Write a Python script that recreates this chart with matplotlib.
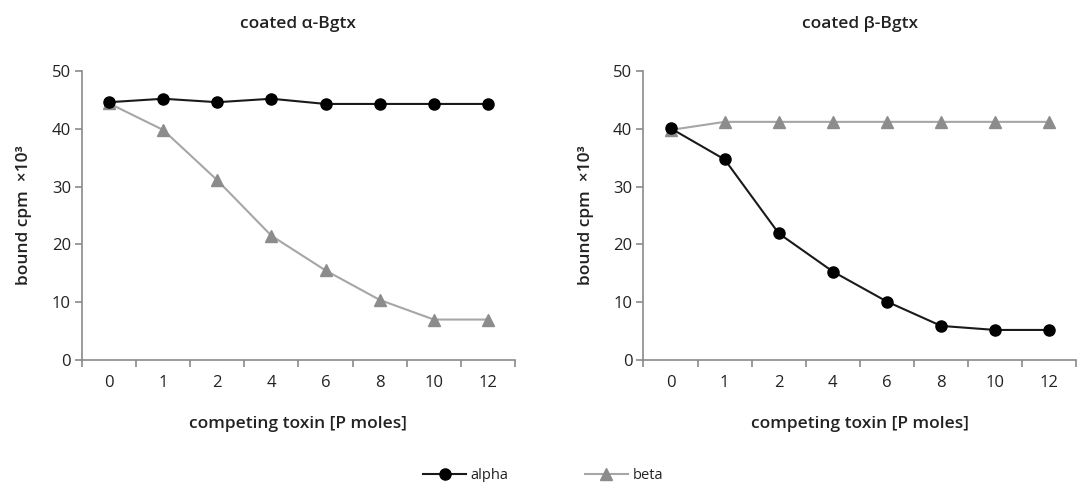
import matplotlib
matplotlib.use("Agg")
import matplotlib.pyplot as plt
import numpy as np

plt.rcParams['font.family'] = ['Open Sans', 'DejaVu Sans']

toxin = ['0', '1', '2', '4', '6', '8', '10', '12']

# coated alpha-Bgtx panel
alpha_a = [44.6, 45.2, 44.6, 45.2, 44.3, 44.3, 44.3, 44.3]
beta_a = [44.4, 39.8, 31.1, 21.5, 15.5, 10.4, 7.0, 7.0]

# coated beta-Bgtx panel
alpha_b = [40.1, 34.7, 21.9, 15.3, 10.1, 5.9, 5.2, 5.2]
beta_b = [39.8, 41.2, 41.2, 41.2, 41.2, 41.2, 41.2, 41.2]

titles = ['coated \u03b1-Bgtx', 'coated \u03b2-Bgtx']

axis_grey = '#8a8a8a'
text_col = '#222222'

fig = plt.figure(figsize=(10.86, 4.82), dpi=100)
ax1 = fig.add_axes([0.0755, 0.2531, 0.3987, 0.5996])
ax2 = fig.add_axes([0.5925, 0.2531, 0.3987, 0.5996])

x = np.arange(len(toxin))
panels = [(ax1, alpha_a, beta_a), (ax2, alpha_b, beta_b)]

for i, (ax, a, b) in enumerate(panels):
    la, = ax.plot(x, a, color='#1a1a1a', lw=1.5, marker='o', ms=8,
                  mfc='black', mec='black', label='alpha', zorder=3)
    lb, = ax.plot(x, b, color='#a6a6a6', lw=1.5, marker='^', ms=8.5,
                  mfc='#8c8c8c', mec='#8c8c8c', label='beta', zorder=2)
    ax.set_xlim(-0.5, len(toxin) - 0.5)
    ax.set_ylim(0, 50)
    ax.set_yticks(np.arange(0, 51, 10))
    ax.set_xticks(x)
    ax.set_xticklabels(toxin)
    ax.set_xticks(np.arange(-0.5, len(toxin)), minor=True)
    ax.tick_params(axis='x', which='major', length=0, pad=11,
                   labelsize=12, labelcolor=text_col)
    ax.tick_params(axis='x', which='minor', length=5, color=axis_grey, width=1.2)
    ax.tick_params(axis='y', length=5, color=axis_grey, width=1.2,
                   labelsize=12, labelcolor=text_col, pad=3)
    for s in ['top', 'right']:
        ax.spines[s].set_visible(False)
    for s in ['left', 'bottom']:
        ax.spines[s].set_color(axis_grey)
        ax.spines[s].set_linewidth(1.2)
    ax.set_title(titles[i], fontsize=12.5, fontweight='semibold',
                 color=text_col, pad=31)
    ax.set_xlabel('competing toxin [P moles]', fontsize=12.5,
                  fontweight='semibold', color=text_col, labelpad=18)
    ax.set_ylabel('bound cpm  \u00d710\u00b3', fontsize=12.5,
                  fontweight='semibold', color=text_col, labelpad=14)

fig.legend(handles=[la, lb], loc='lower center', bbox_to_anchor=(0.5, -0.03),
           ncol=2, frameon=False, fontsize=10.5, handlelength=3,
           columnspacing=5.2, handletextpad=0.3, labelcolor=text_col)

fig.savefig('out.png', dpi=100, facecolor='white')
